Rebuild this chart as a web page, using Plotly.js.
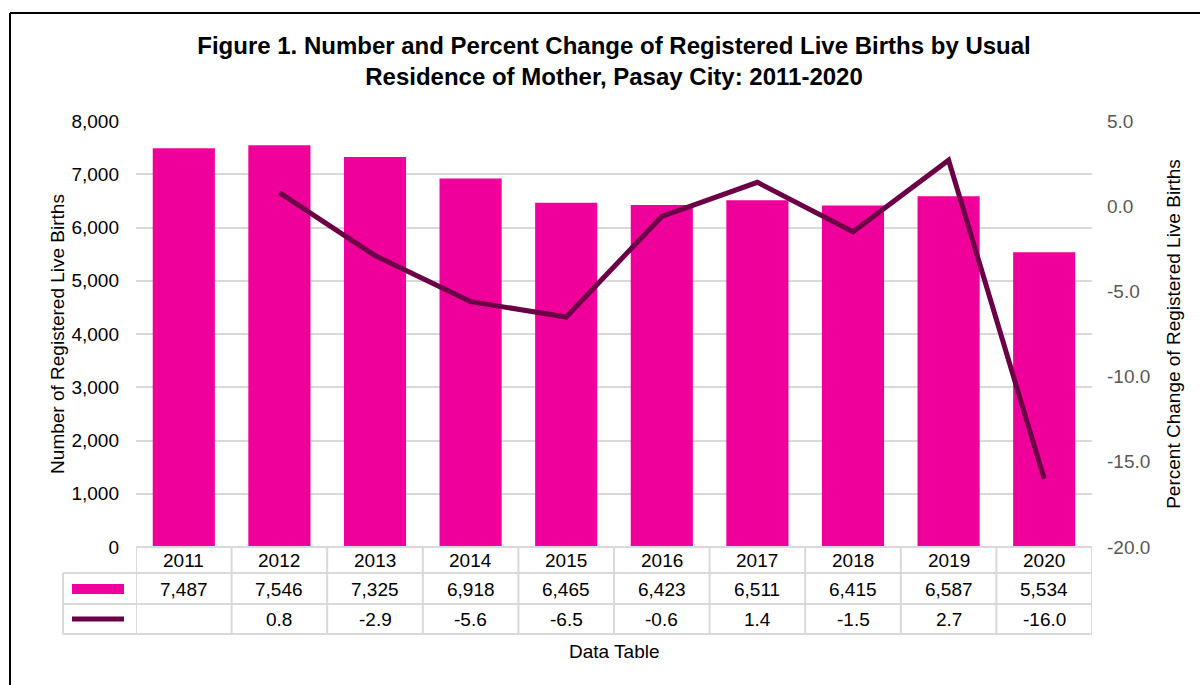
<!DOCTYPE html>
<html><head><meta charset="utf-8">
<script src="https://cdn.plot.ly/plotly-3.0.1.min.js"></script>
<style>html,body{margin:0;padding:0;background:#fff}#chart{width:1200px;height:685px}</style>
</head><body><div id="chart"></div>
<script>
const years = ['2011','2012','2013','2014','2015','2016','2017','2018','2019','2020'];
const births = [7487, 7546, 7325, 6918, 6465, 6423, 6511, 6415, 6587, 5534];
const pctChange = [null, 0.8, -2.9, -5.6, -6.5, -0.6, 1.4, -1.5, 2.7, -16.0];
const pctTicks = [-20, -15, -10, -5, 0, 5];

const FONT = 'Liberation Sans, Arial, sans-serif';
const GRID = '#d9d9d9';
const BAR = '#EF009A';
const LINE = '#6B0047';
const FS = 19;

// table geometry in paper units (plot area height = 426px)
const ph = 426;
const rowLines = [0, -26/ph, -57/ph, -87/ph];
const rowMid = [-13/ph, -42/ph, -72/ph];
const keyLeft = -73/956;

const shapes = [];
const annotations = [];
shapes.push({type:'line', xref:'paper', yref:'paper', x0:0, x1:1, y0:rowLines[0], y1:rowLines[0], line:{color:GRID, width:2}});
for (let r = 1; r < rowLines.length; r++) {
  shapes.push({type:'line', xref:'paper', yref:'paper', x0:keyLeft, x1:1, y0:rowLines[r], y1:rowLines[r], line:{color:GRID, width:2}});
}
for (let i = 0; i <= years.length; i++) {
  shapes.push({type:'line', xref:'x', yref:'paper', x0:i-0.5, x1:i-0.5, y0:rowLines[0], y1:rowLines[3], line:{color:GRID, width:2}});
}
shapes.push({type:'line', xref:'paper', yref:'paper', x0:keyLeft, x1:keyLeft, y0:rowLines[1], y1:rowLines[3], line:{color:GRID, width:2}});
// legend keys
shapes.push({type:'rect', xref:'paper', yref:'paper', x0:-64/956, x1:-12/956, y0:-37/ph, y1:-47/ph, fillcolor:BAR, line:{width:0}});
shapes.push({type:'line', xref:'paper', yref:'paper', x0:-64/956, x1:-12/956, y0:rowMid[2], y1:rowMid[2], line:{color:LINE, width:5}});
// outer frame (left and top)
shapes.push({type:'line', xref:'paper', yref:'paper', x0:-126/956, x1:-126/956, y0:534/ph, y1:-150/ph, line:{color:'#000', width:2}});
shapes.push({type:'line', xref:'paper', yref:'paper', x0:-126/956, x1:1.2, y0:534/ph, y1:534/ph, line:{color:'#000', width:2}});

years.forEach((y, i) => {
  annotations.push({xref:'x', yref:'paper', x:i, y:rowMid[0], yanchor:'middle', text:y, showarrow:false, font:{family:FONT, size:FS, color:'#000'}});
  annotations.push({xref:'x', yref:'paper', x:i, y:rowMid[1], yanchor:'middle', text:births[i].toLocaleString('en-US'), showarrow:false, font:{family:FONT, size:FS, color:'#000'}});
  if (pctChange[i] !== null) {
    annotations.push({xref:'x', yref:'paper', x:i, y:rowMid[2], yanchor:'middle', text:pctChange[i].toFixed(1), showarrow:false, font:{family:FONT, size:FS, color:'#000'}});
  }
});
annotations.push({xref:'paper', yref:'paper', x:0.5, y:-104/ph, yanchor:'middle', text:'Data Table', showarrow:false, font:{family:FONT, size:FS, color:'#000'}});

const data = [
  {type:'bar', x:years, y:births, marker:{color:BAR}, name:'Births', hoverinfo:'x+y'},
  {type:'scatter', mode:'lines', x:years, y:pctChange, yaxis:'y2', line:{color:LINE, width:5}, name:'Percent Change', connectgaps:false}
];

const layout = {
  width:1200, height:685,
  margin:{l:136, r:108, t:121, b:138},
  paper_bgcolor:'#fff', plot_bgcolor:'#fff',
  showlegend:false,
  bargap:0.35,
  font:{family:FONT, color:'#000'},
  title:{text:'<b>Figure 1. Number and Percent Change of Registered Live Births by Usual<br>Residence of Mother, Pasay City: 2011-2020</b>',
         x:0.5, xref:'paper', xanchor:'center', y:1-54/685, yref:'container', yanchor:'middle', font:{family:FONT, size:24, color:'#000'}},
  xaxis:{type:'category', showticklabels:false, showgrid:false, zeroline:false, showline:false, range:[-0.5, 9.5]},
  yaxis:{range:[0, 8000], dtick:1000, tickformat:',', showgrid:true, gridcolor:GRID, gridwidth:2, zeroline:false, showline:false,
         ticks:'', ticklabelstandoff:16, tickfont:{family:FONT, size:FS, color:'#000'},
         title:{text:'Number of Registered Live Births', font:{family:FONT, size:FS, color:'#000'}, standoff:1}},
  yaxis2:{overlaying:'y', side:'right', range:[-20, 5], tickmode:'array', tickvals:pctTicks, ticktext:pctTicks.map(v => v.toFixed(1)),
          showgrid:false, zeroline:false, showline:false,
          ticks:'', ticklabelstandoff:14, tickfont:{family:FONT, size:FS, color:'#595959'},
          title:{text:'Percent Change of Registered Live Births', font:{family:FONT, size:FS, color:'#000'}, standoff:17}},
  shapes:shapes,
  annotations:annotations
};

Plotly.newPlot('chart', data, layout, {displayModeBar:false, staticPlot:true});
</script>
</body></html>
